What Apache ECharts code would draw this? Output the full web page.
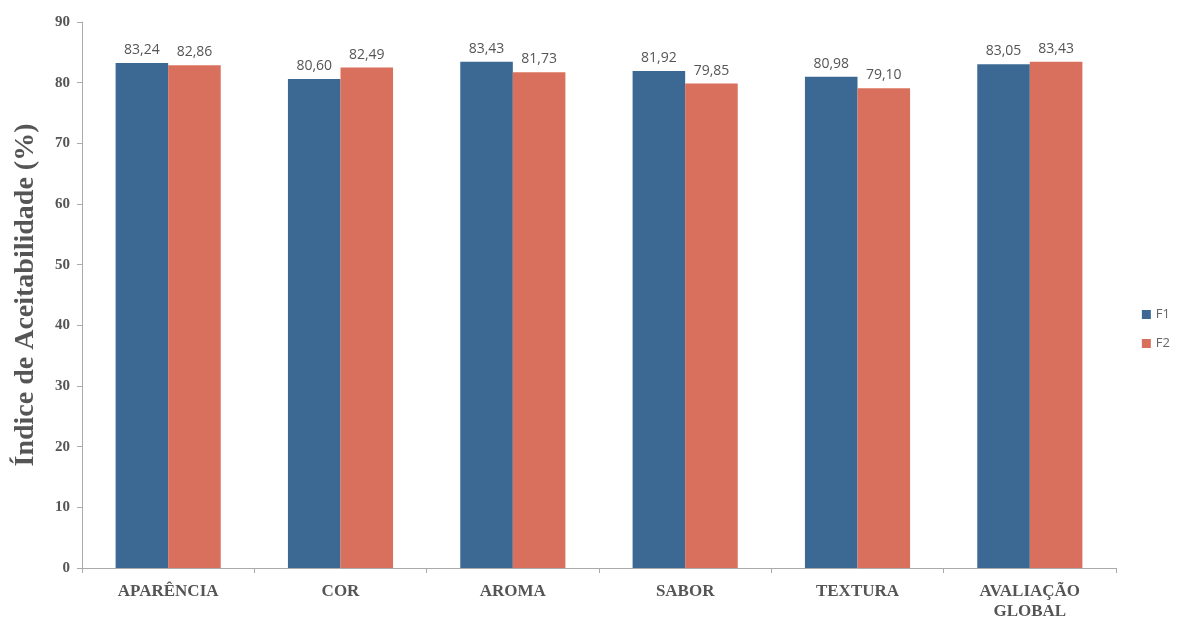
<!DOCTYPE html>
<html lang="pt">
<head>
    <meta charset="UTF-8">
    <script src="https://cdn.jsdelivr.net/npm/echarts@6/dist/echarts.min.js"></script>
    <title>Índice de Aceitabilidade</title>
    <style>
        html, body { margin: 0; padding: 0; background: #fff; }
        #chart { width: 1183px; height: 622px; }
    </style>
</head>
<body>
    <div id="chart"></div>
    <script>
        // dados
        const categorias = ['APARÊNCIA', 'COR', 'AROMA', 'SABOR', 'TEXTURA', 'AVALIAÇÃO\nGLOBAL'];
        const f1 = [83.24, 80.60, 83.43, 81.92, 80.98, 83.05];
        const f2 = [82.86, 82.49, 81.73, 79.85, 79.10, 83.43];
        const yTicks = [0, 90, 10]; // min, max, intervalo

        const chart = echarts.init(document.getElementById('chart'));

        const rotulo = {
            show: true,
            position: 'top',
            distance: 6,
            color: '#555',
            fontFamily: 'Open Sans',
            fontSize: 14,
            formatter: p => p.value.toFixed(2).replace('.', ',')
        };

        chart.setOption({
            animation: false,
            grid: { left: 82, right: 67, top: 22, bottom: 54 },
            legend: {
                orient: 'vertical',
                right: 8,
                top: 303,
                itemWidth: 9,
                itemHeight: 9,
                itemGap: 16,
                icon: 'rect',
                textStyle: { color: '#666', fontFamily: 'Open Sans', fontSize: 13 }
            },
            xAxis: {
                type: 'category',
                data: categorias,
                axisLine: { lineStyle: { color: '#aaa' } },
                axisTick: { show: true, alignWithLabel: false, lineStyle: { color: '#aaa' } },
                axisLabel: {
                    color: '#555',
                    fontFamily: 'Liberation Serif',
                    fontWeight: 'bold',
                    fontSize: 17,
                    lineHeight: 20,
                    margin: 14
                }
            },
            yAxis: {
                type: 'value',
                min: yTicks[0],
                max: yTicks[1],
                interval: yTicks[2],
                name: 'Índice de Aceitabilidade (%)',
                nameLocation: 'middle',
                nameGap: 42,
                nameTextStyle: {
                    color: '#555',
                    fontFamily: 'Liberation Serif',
                    fontWeight: 'bold',
                    fontSize: 28
                },
                axisLine: { show: true, lineStyle: { color: '#aaa' } },
                axisTick: { show: true, lineStyle: { color: '#aaa' } },
                splitLine: { show: false },
                axisLabel: {
                    color: '#555',
                    fontFamily: 'Liberation Serif',
                    fontWeight: 'bold',
                    fontSize: 15,
                    margin: 12
                }
            },
            series: [{
                name: 'F1',
                type: 'bar',
                data: f1,
                barGap: '0%',
                barCategoryGap: '39%',
                itemStyle: { color: '#3b6994' },
                label: rotulo
            }, {
                name: 'F2',
                type: 'bar',
                data: f2,
                itemStyle: { color: '#d9705d' },
                label: rotulo
            }]
        });
    </script>
</body>
</html>
